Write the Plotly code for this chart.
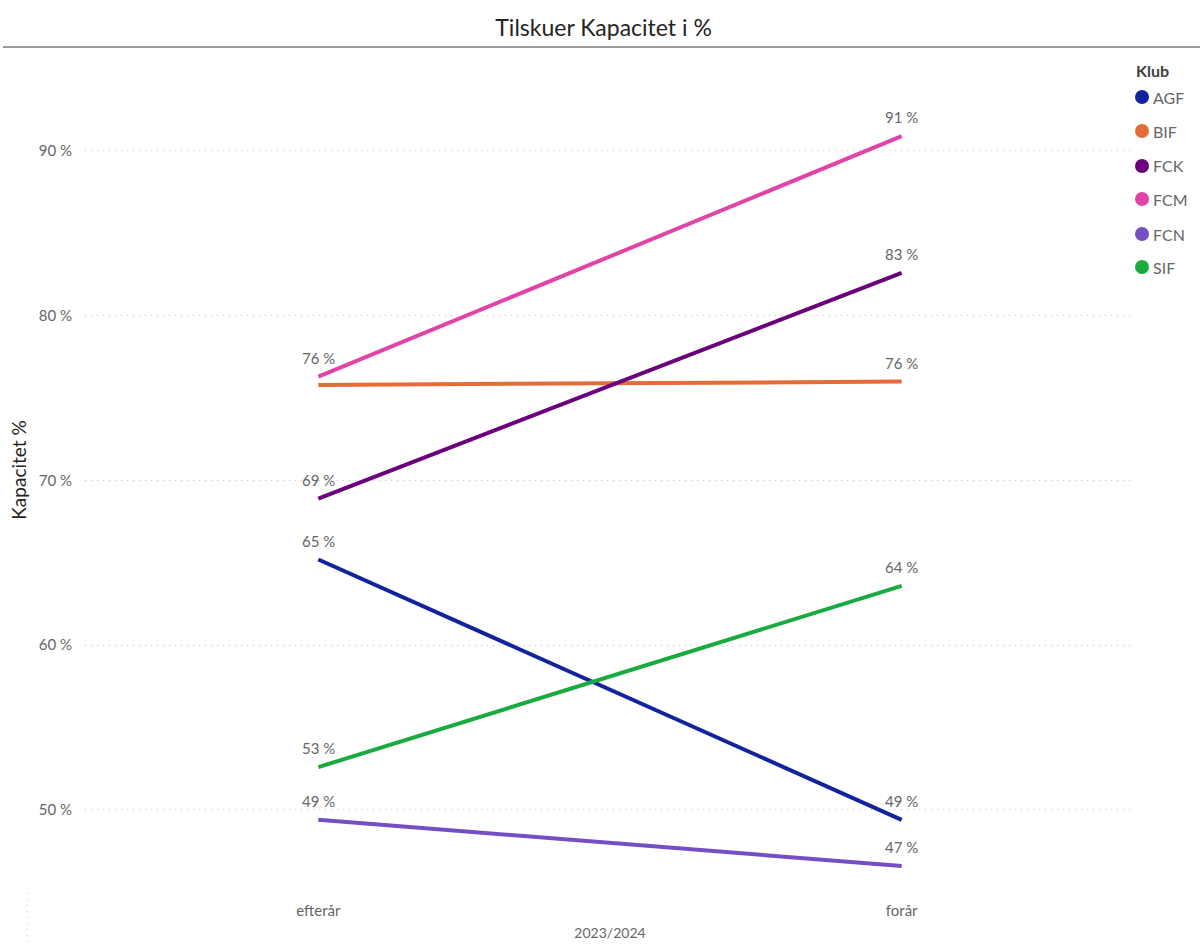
import plotly.graph_objects as go

categories = ["efterår", "forår"]
clubs = ["AGF", "BIF", "FCK", "FCM", "FCN", "SIF"]
values = {
    "AGF": [65.2, 49.4],
    "BIF": [75.8, 76.0],
    "FCK": [68.9, 82.6],
    "FCM": [76.3, 90.9],
    "FCN": [49.4, 46.6],
    "SIF": [52.6, 63.6],
}
colors = {
    "AGF": "#12239E",
    "BIF": "#E66C37",
    "FCK": "#6B007B",
    "FCM": "#E044A7",
    "FCN": "#744EC2",
    "SIF": "#1AAB40",
}
# labels hidden by overlap in the original
hidden_labels = {("BIF", 0)}
y_ticks = [50, 60, 70, 80, 90]
y_ticktext = ["50 %", "60 %", "70 %", "80 %", "90 %"]

FONT = "Segoe UI, Lato, Open Sans, sans-serif"

W, H = 1200, 950
L, R, T, B = 85, 65, 50, 60
pw, ph = W - L - R, H - T - B


def px_x(p):
    return (p - L) / pw


def px_y(p):
    return (H - B - p) / ph


fig = go.Figure()
annotations = []
for club in clubs:
    vals = values[club]
    xs = list(range(len(categories)))
    fig.add_trace(go.Scatter(
        x=xs, y=vals, mode="lines",
        line=dict(color=colors[club], width=4),
        showlegend=False, name=club,
    ))
    for i, v in enumerate(vals):
        if (club, i) in hidden_labels:
            continue
        annotations.append(dict(
            x=xs[i], y=v, xref="x", yref="y", text=f"{v:.0f} %", showarrow=False,
            yshift=19, xanchor="center", yanchor="middle",
            font=dict(family=FONT, size=15, color="#666666"),
        ))

# legend (drawn manually to keep plot area width)
annotations.append(dict(
    x=px_x(1134), y=px_y(70), xref="paper", yref="paper", text="<b>Klub</b>", showarrow=False,
    xanchor="left", yanchor="middle", font=dict(family=FONT, size=16, color="#404040"),
))
legend_y = [97, 131, 166, 199, 234, 267]
shapes = []
for club, ly in zip(clubs, legend_y):
    annotations.append(dict(
        x=px_x(1151), y=px_y(ly), xref="paper", yref="paper", text=club, showarrow=False,
        xanchor="left", yanchor="middle", font=dict(family=FONT, size=16, color="#666666"),
    ))
    shapes.append(dict(
        type="circle", xref="paper", yref="paper", xsizemode="pixel", ysizemode="pixel",
        xanchor=px_x(1142), yanchor=px_y(ly), x0=-7, x1=7, y0=-7, y1=7,
        fillcolor=colors[club], line=dict(width=0),
    ))

shapes += [
    dict(type="line", xref="paper", yref="paper", x0=px_x(3), x1=px_x(1200), y0=px_y(47), y1=px_y(47),
         line=dict(color="#9A9A9A", width=2)),
    dict(type="line", xref="paper", yref="paper", x0=px_x(27), x1=px_x(27), y0=px_y(893), y1=px_y(945),
         line=dict(color="#C8C8C8", width=1, dash="1px,5px")),
]

fig.update_layout(
    width=W, height=H,
    margin=dict(l=L, r=R, t=T, b=B, autoexpand=False),
    paper_bgcolor="white", plot_bgcolor="white",
    showlegend=False,
    title=dict(text="Tilskuer Kapacitet i %", x=0.503, xanchor="center", y=1 - 28 / H, yanchor="middle",
               font=dict(family=FONT, size=23, color="#252423")),
    xaxis=dict(
        tickmode="array", tickvals=list(range(len(categories))), ticktext=categories,
        range=[-0.4, 1.4], showgrid=False, zeroline=False, showline=False,
        tickfont=dict(family=FONT, size=15, color="#666666"),
        title=dict(text="2023/2024", font=dict(family=FONT, size=14, color="#666666"), standoff=10),
        ticks="", ticklen=0, ticklabelstandoff=10,
    ),
    yaxis=dict(
        tickmode="array", tickvals=y_ticks, ticktext=y_ticktext, range=[45.14, 96.13],
        showgrid=True, gridcolor="#BDBDBD", griddash="1px,5px", gridwidth=1,
        zeroline=False, showline=False,
        tickfont=dict(family=FONT, size=15, color="#666666"),
        title=dict(text="Kapacitet %", font=dict(family=FONT, size=19, color="#252423"), standoff=7),
        ticks="", ticklabelstandoff=12,
    ),
    annotations=annotations,
    shapes=shapes,
)

fig.write_html("out.html")
